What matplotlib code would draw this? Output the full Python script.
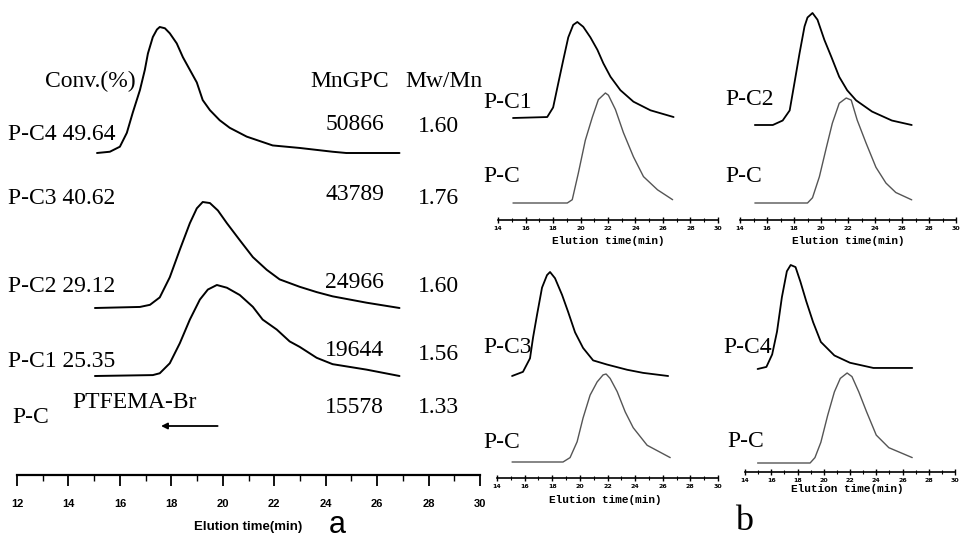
import numpy as np
import matplotlib.pyplot as plt
from matplotlib.ticker import MultipleLocator

W, H = 961, 540

# ---- panel a : GPC traces (elution time, normalised signal) ----
pc4Time = [15.11, 15.61, 16.0, 16.27, 16.5, 16.78, 16.97, 17.09, 17.28, 17.44, 17.55, 17.75,
           17.94, 18.21, 18.45, 18.72, 18.99, 19.22, 19.5, 19.88, 20.27, 20.93, 21.94, 22.99,
           24.27, 24.8, 26.87]
pc4Signal = [0, 0.01, 0.05, 0.16, 0.32, 0.50, 0.66, 0.79, 0.92, 0.98, 1.0, 0.99,
             0.95, 0.87, 0.76, 0.66, 0.56, 0.42, 0.34, 0.26, 0.20, 0.13, 0.06, 0.04,
             0.01, 0, 0]

pc2Time = [15.03, 16.78, 17.17, 17.55, 17.94, 18.33, 18.72, 18.99, 19.22, 19.5, 19.81, 20.16,
           20.66, 21.17, 21.71, 22.21, 22.99, 23.65, 24.27, 25.59, 26.87]
pc2Signal = [0, 0.01, 0.03, 0.10, 0.29, 0.55, 0.80, 0.94, 1.0, 0.99, 0.92, 0.80,
             0.64, 0.48, 0.36, 0.27, 0.20, 0.15, 0.11, 0.05, 0]

pc1Time = [15.03, 17.28, 17.55, 17.94, 18.33, 18.72, 19.11, 19.42, 19.77, 20.16, 20.66,
           21.17, 21.55, 22.1, 22.6, 22.99, 23.65, 24.27, 25.59, 26.87]
pc1Signal = [0, 0.01, 0.03, 0.14, 0.36, 0.62, 0.84, 0.95, 1.0, 0.97, 0.89,
             0.76, 0.62, 0.51, 0.38, 0.32, 0.20, 0.13, 0.07, 0]

sampleNames = ['P-C4', 'P-C3', 'P-C2', 'P-C1']
conversions = ['49.64', '40.62', '29.12', '25.35']
mnGpc = ['50866', '43789', '24966', '19644', '15578']
pdi = ['1.60', '1.76', '1.60', '1.56', '1.33']

# ---- panel b : each copolymer against the P-C macroinitiator ----
b1Time = [15.09, 17.58, 18.01, 18.38, 18.74, 19.11, 19.47, 19.77, 20.2, 20.72, 21.23, 21.66,
          22.18, 22.9, 23.85, 25.09, 26.77]
b1Signal = [0, 0.01, 0.11, 0.36, 0.60, 0.84, 0.97, 1.0, 0.95, 0.84, 0.71, 0.57,
            0.43, 0.29, 0.17, 0.08, 0.01]
b1RefTime = [15.09, 19.04, 19.4, 19.84, 20.35, 20.86, 21.3, 21.81, 22.03, 22.54, 23.12,
             23.85, 24.58, 25.6, 26.7]
b1RefSignal = [0, 0, 0.03, 0.27, 0.57, 0.78, 0.94, 1.0, 0.98, 0.85, 0.64,
               0.42, 0.24, 0.12, 0.03]

b2Time = [15.1, 16.43, 17.16, 17.68, 18.04, 18.41, 18.78, 19.0, 19.37, 19.74, 20.25, 20.76,
          21.35, 21.94, 22.6, 23.78, 25.25, 26.72]
b2Signal = [0, 0, 0.04, 0.13, 0.38, 0.64, 0.88, 0.96, 1.0, 0.94, 0.76, 0.61,
            0.43, 0.31, 0.22, 0.12, 0.04, 0]
b2RefTime = [15.1, 19.0, 19.37, 19.88, 20.4, 20.84, 21.35, 21.87, 22.24, 22.68, 23.34,
             24.07, 24.81, 25.54, 26.72]
b2RefSignal = [0, 0, 0.05, 0.25, 0.53, 0.76, 0.95, 1.0, 0.98, 0.79, 0.57,
               0.34, 0.19, 0.10, 0.03]

b3Time = [15.09, 15.88, 16.39, 16.61, 16.9, 17.26, 17.62, 17.84, 18.2, 18.71, 19.14, 19.65,
          20.23, 20.96, 21.97, 23.42, 24.58, 26.39]
b3Signal = [0, 0.04, 0.17, 0.37, 0.59, 0.85, 0.97, 1.0, 0.94, 0.78, 0.62, 0.42,
            0.27, 0.15, 0.11, 0.06, 0.03, 0]
b3RefTime = [15.09, 18.78, 19.29, 19.8, 20.23, 20.74, 21.25, 21.68, 21.9, 22.19, 22.7,
             23.28, 23.86, 24.87, 26.54]
b3RefSignal = [0, 0, 0.05, 0.23, 0.50, 0.76, 0.91, 0.99, 1.0, 0.95, 0.80,
               0.57, 0.39, 0.19, 0.05]

b4Time = [14.96, 15.63, 16.07, 16.44, 16.81, 17.19, 17.48, 17.85, 18.22, 18.67, 19.19, 19.78,
          20.81, 22.0, 23.78, 26.74]
b4Signal = [0, 0.02, 0.14, 0.36, 0.69, 0.94, 1.0, 0.98, 0.84, 0.65, 0.45, 0.26,
            0.13, 0.06, 0.01, 0.01]
b4RefTime = [14.96, 18.96, 19.33, 19.78, 20.3, 20.81, 21.26, 21.78, 22.15, 22.67, 23.26,
             24.0, 24.96, 26.74]
b4RefSignal = [0, 0, 0.06, 0.23, 0.53, 0.79, 0.94, 1.0, 0.96, 0.79, 0.57,
               0.31, 0.17, 0.06]

SERIF = 'Liberation Serif'
SANS = 'Liberation Sans'
MONO = 'Liberation Mono'


def pixelAxes(fig, left, top, right, bottom):
    ax = fig.add_axes([left / W, 1 - bottom / H, (right - left) / W, (bottom - top) / H])
    ax.set_ylim(0, bottom - top)
    ax.patch.set_alpha(0)
    for side in ['left', 'top', 'right']:
        ax.spines[side].set_visible(False)
    ax.set_yticks([])
    return ax


def putText(fig, x, y, s, **kw):
    kw.setdefault('family', SERIF)
    kw.setdefault('fontsize', 17)
    kw.setdefault('va', 'baseline')
    fig.text(x / W, 1 - y / H, s, **kw)


def drawTrace(ax, time, signal, base, height, **kw):
    ax.plot(time, base + height * np.array(signal), clip_on=False,
            solid_joinstyle='round', solid_capstyle='round', **kw)


def smallPanel(fig, box, sample, ref, sampleLayout, refLayout):
    ax = pixelAxes(fig, *box)
    ax.set_xlim(14, 30)
    ax.xaxis.set_major_locator(MultipleLocator(2))
    ax.xaxis.set_minor_locator(MultipleLocator(1))
    ax.tick_params(axis='x', which='major', direction='inout', length=5, width=1.0,
                   labelsize=4.5, pad=2)
    ax.tick_params(axis='x', which='minor', direction='inout', length=3, width=0.8)
    for lab in ax.get_xticklabels():
        lab.set_fontweight('bold')
    ax.spines['bottom'].set_linewidth(1.2)
    drawTrace(ax, sample[0], sample[1], *sampleLayout, color='black', lw=1.3)
    drawTrace(ax, ref[0], ref[1], *refLayout, color='#555555', lw=1.0)
    return ax


fig = plt.figure(figsize=(W / 100, H / 100), dpi=100)

# panel a
axA = pixelAxes(fig, 17, 0, 480, 475)
axA.set_xlim(12, 30)
axA.xaxis.set_major_locator(MultipleLocator(2))
axA.xaxis.set_minor_locator(MultipleLocator(1))
axA.tick_params(axis='x', which='major', direction='out', length=8, width=1.3,
                labelsize=8, pad=9)
axA.tick_params(axis='x', which='minor', direction='out', length=4, width=1.0)
for lab in axA.get_xticklabels():
    lab.set_fontweight('bold')
    lab.set_family(SANS)
axA.spines['bottom'].set_linewidth(1.6)

drawTrace(axA, pc4Time, pc4Signal, 322, 126, color='black', lw=1.4)
drawTrace(axA, pc2Time, pc2Signal, 167, 106, color='black', lw=1.4)
drawTrace(axA, pc1Time, pc1Signal, 99, 91, color='black', lw=1.4)

axA.annotate('', xy=(17.6, 49), xytext=(19.8, 49),
             arrowprops=dict(arrowstyle='-|>', color='black', lw=1.3,
                             mutation_scale=9, shrinkA=0, shrinkB=0))

putText(fig, 45, 87, 'Conv.(%)')
putText(fig, 310, 87, 'MnGPC')
putText(fig, 405, 87, 'Mw/Mn')

rowBase = [140, 204, 292, 367]
numBase = [130, 200, 288, 356, 413]
pdiBase = [132, 204, 292, 360, 413]
for i, name in enumerate(sampleNames):
    putText(fig, 8, rowBase[i], name + ' ' + conversions[i])
for i in range(len(mnGpc)):
    putText(fig, 384, numBase[i], mnGpc[i], ha='right')
    putText(fig, 418, pdiBase[i], pdi[i])
putText(fig, 12, 423, 'P-C')
putText(fig, 72, 408, 'PTFEMA-Br')

putText(fig, 248, 530, 'Elution time(min)', family=SANS, fontsize=9.5,
        fontweight='bold', ha='center')
putText(fig, 337, 533, 'a', family=SANS, fontsize=22, ha='center')

# panel b
smallPanel(fig, (498, 0, 718, 220), (b1Time, b1Signal), (b1RefTime, b1RefSignal),
           (102, 96), (17, 110))
smallPanel(fig, (740, 0, 956, 220), (b2Time, b2Signal), (b2RefTime, b2RefSignal),
           (95, 112), (17, 105))
smallPanel(fig, (497, 250, 718, 478), (b3Time, b3Signal), (b3RefTime, b3RefSignal),
           (102, 104), (16, 88))
smallPanel(fig, (745, 250, 955, 472), (b4Time, b4Signal), (b4RefTime, b4RefSignal),
           (103, 104), (9, 90))

putText(fig, 483, 108, 'P-C1')
putText(fig, 483, 182, 'P-C')
putText(fig, 725, 105, 'P-C2')
putText(fig, 725, 182, 'P-C')
putText(fig, 483, 353, 'P-C3')
putText(fig, 483, 448, 'P-C')
putText(fig, 723, 353, 'P-C4')
putText(fig, 727, 447, 'P-C')

for cx, cy in [(608, 244), (848, 244), (605, 503), (847, 492)]:
    putText(fig, cx, cy, 'Elution time(min)', family=MONO, fontsize=8,
            fontweight='bold', ha='center')
putText(fig, 735, 530, 'b', fontsize=26)

fig.savefig('out.png', dpi=100)
